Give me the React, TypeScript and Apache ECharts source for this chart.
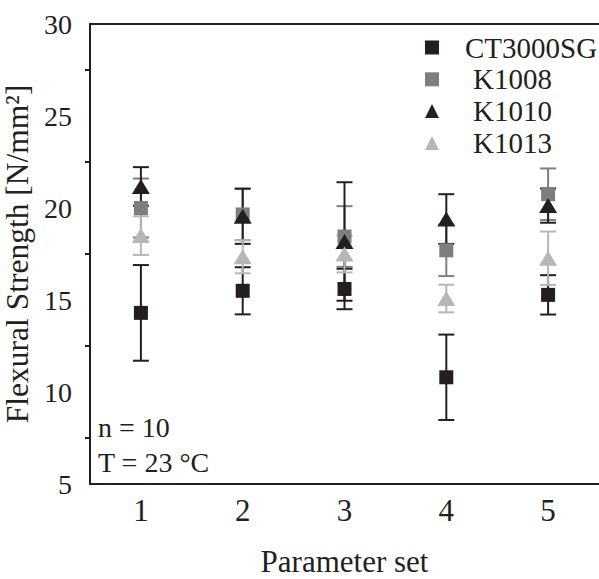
import React, { useEffect, useRef } from "react";
import * as echarts from "echarts";

const categories = ["1", "2", "3", "4", "5"];
const seriesNames = ["CT3000SG", "K1008", "K1010", "K1013"];
const ctMean = [14.3, 15.5, 15.6, 10.8, 15.28];
const ctErr = [2.6, 1.28, 1.1, 2.32, 1.07];
const k1008Mean = [20.0, 19.65, 18.45, 17.7, 20.75];
const k1008Err = [1.6, 1.4, 1.65, 1.4, 1.4];
const k1010Mean = [21.17, 19.55, 18.18, 19.4, 20.13];
const k1010Err = [1.05, 1.5, 3.22, 1.35, 0.93];
const k1013Mean = [18.5, 17.35, 17.5, 15.08, 17.27];
const k1013Err = [1.05, 0.9, 1.0, 0.75, 1.45];
const yTicks = { min: 5, max: 30, interval: 5 };

const BLACK = "#231f20";
const GRAY = "#7e7e80";
const LIGHT = "#b6b6b8";
const FONT = "'Liberation Serif', 'Times New Roman', serif";

export default function App() {
  const ref = useRef<HTMLDivElement>(null);
  useEffect(() => {
    if (!ref.current) return;
    const chart = echarts.init(ref.current, undefined, { renderer: "svg" });
    const defs = [
      { name: seriesNames[0], mean: ctMean, err: ctErr, color: BLACK, symbol: "rect", size: 14 },
      { name: seriesNames[1], mean: k1008Mean, err: k1008Err, color: GRAY, symbol: "rect", size: 14 },
      { name: seriesNames[2], mean: k1010Mean, err: k1010Err, color: BLACK, symbol: "triangle", size: [18, 15] },
      { name: seriesNames[3], mean: k1013Mean, err: k1013Err, color: LIGHT, symbol: "triangle", size: [18, 15] },
    ];
    const series: any[] = [];
    defs.forEach((d) => {
      series.push({
        type: "scatter",
        name: d.name,
        symbol: d.symbol,
        symbolSize: d.size,
        itemStyle: { color: d.color, opacity: 1 },
        data: d.mean.map((m, i) => [i, m]),
      });
      series.push({
        type: "custom",
        renderItem: (params: any, api: any) => {
          const x = api.value(0);
          const lo = api.coord([x, api.value(1)]);
          const hi = api.coord([x, api.value(2)]);
          const hw = 8;
          const style = { stroke: d.color, lineWidth: 2 };
          return {
            type: "group",
            children: [
              { type: "line", shape: { x1: lo[0], y1: lo[1], x2: hi[0], y2: hi[1] }, style },
              { type: "line", shape: { x1: lo[0] - hw, y1: lo[1], x2: lo[0] + hw, y2: lo[1] }, style },
              { type: "line", shape: { x1: hi[0] - hw, y1: hi[1], x2: hi[0] + hw, y2: hi[1] }, style },
            ],
          };
        },
        encode: { x: 0, y: [1, 2] },
        data: d.mean.map((m, i) => [i, m - d.err[i], m + d.err[i]]),
        silent: true,
      });
    });

    chart.setOption({
      animation: false,
      backgroundColor: "#ffffff",
      textStyle: { fontFamily: FONT },
      grid: { left: 90, right: 0, top: 24, bottom: 95, outerBoundsMode: "none" },
      legend: {
        data: seriesNames,
        orient: "vertical",
        left: 420,
        top: 28,
        itemWidth: 14,
        itemHeight: 14,
        itemGap: 2.8,
        formatter: (name: string) => (name === "CT3000SG" ? `{a|${name}}` : `{b|${name}}`),
        textStyle: {
          fontFamily: FONT,
          fontSize: 29,
          color: BLACK,
          lineHeight: 28,
          rich: {
            a: { fontFamily: FONT, fontSize: 29, lineHeight: 28, color: BLACK, padding: [0, 0, 0, 21] },
            b: { fontFamily: FONT, fontSize: 29, lineHeight: 28, color: BLACK, padding: [0, 0, 0, 29] },
          },
        },
      },
      xAxis: [
        {
          type: "category",
          data: categories,
          position: "bottom",
          name: "Parameter set",
          nameLocation: "middle",
          nameGap: 62,
          nameTextStyle: { fontFamily: FONT, fontSize: 31, color: BLACK },
          axisLine: { lineStyle: { color: BLACK, width: 2 } },
          axisTick: { alignWithLabel: true, length: 8, lineStyle: { color: BLACK, width: 2 } },
          axisLabel: { fontFamily: FONT, fontSize: 31, color: BLACK, margin: 11 },
          splitLine: { show: false },
        },
        {
          type: "category",
          data: categories,
          position: "top",
          axisLine: { lineStyle: { color: BLACK, width: 2 } },
          axisTick: { show: false },
          axisLabel: { show: false },
        },
      ],
      yAxis: {
        type: "value",
        min: yTicks.min,
        max: yTicks.max,
        interval: yTicks.interval,
        name: "Flexural Strength [N/mm²]",
        nameLocation: "middle",
        nameGap: 51,
        nameTextStyle: { fontFamily: FONT, fontSize: 31.5, color: BLACK },
        axisLine: { show: true, lineStyle: { color: BLACK, width: 2 } },
        axisTick: { length: 9, lineStyle: { color: BLACK, width: 2 } },
        minorTick: { show: true, splitNumber: 2, length: 5, lineStyle: { color: BLACK, width: 2 } },
        axisLabel: { fontFamily: FONT, fontSize: 28, color: BLACK, margin: 18 },
        splitLine: { show: false },
      },
      graphic: [
        { type: "text", left: 98, top: 413, style: { text: "n = 10", fontFamily: FONT, fontSize: 28, fill: BLACK } },
        { type: "text", left: 98, top: 448, style: { text: "T = 23 °C", fontFamily: FONT, fontSize: 28, fill: BLACK } },
      ],
      series,
    });
    return () => chart.dispose();
  }, []);
  return <div ref={ref} style={{ position: "absolute", left: 0, top: 0, width: 599, height: 579 }} />;
}
